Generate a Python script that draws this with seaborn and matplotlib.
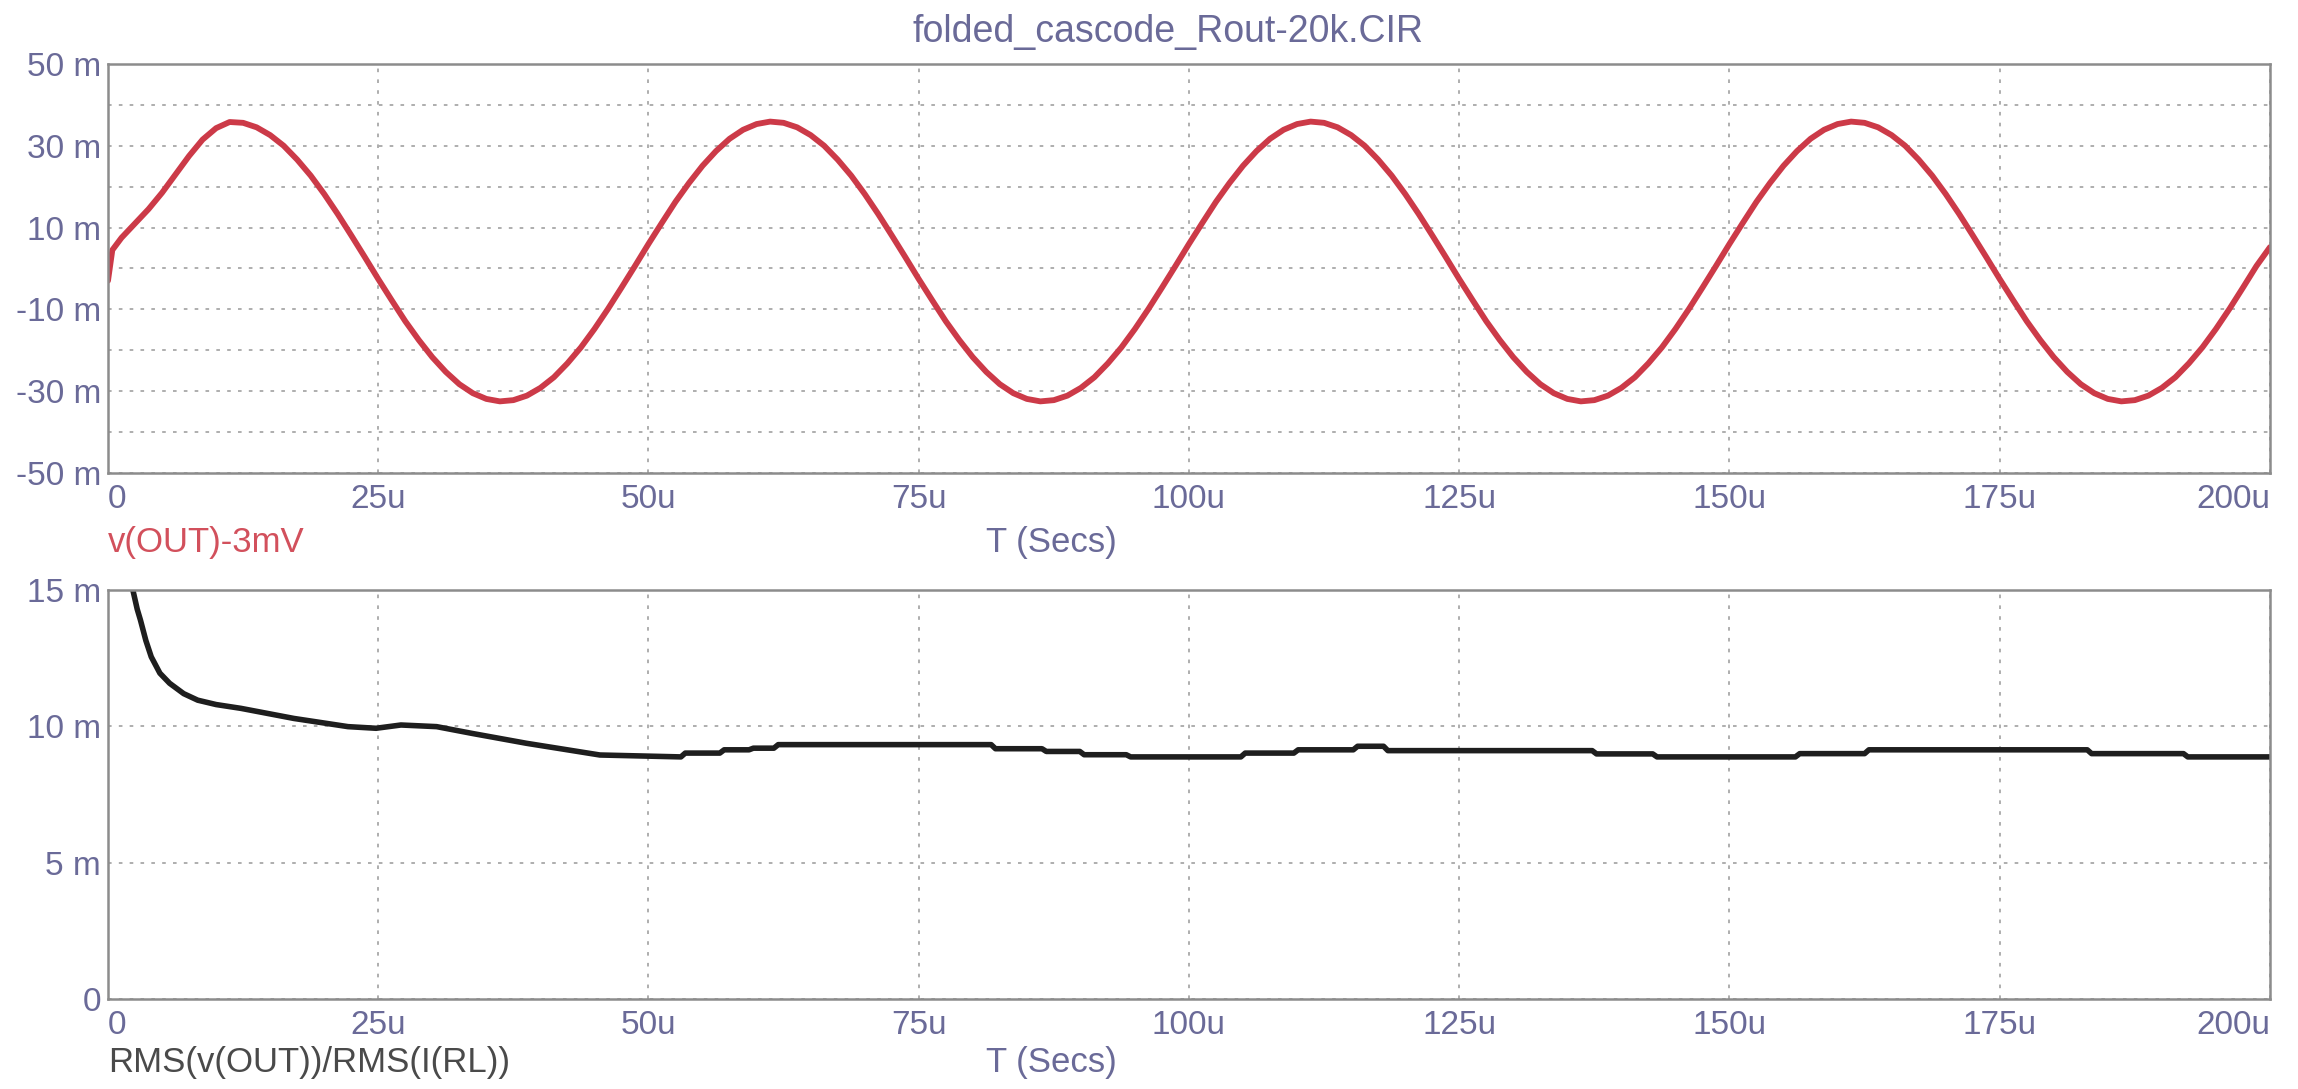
# Recreación del gráfico de simulación (folded_cascode_Rout-20k.CIR)
import pandas as pd
import seaborn as sns
import matplotlib.pyplot as plt

# Datos (tiempo en microsegundos, valores en mV / mOhm)
t_out = [0.0, 0.4, 1.25, 2.5, 3.75, 5.0, 6.25, 7.5, 8.75, 10.0, 11.25, 12.5, 13.75, 15.0, 16.25, 17.5, 18.75, 20.0, 21.25, 22.5, 23.75,
         25.0, 26.25, 27.5, 28.75, 30.0, 31.25, 32.5, 33.75, 35.0, 36.25, 37.5, 38.75, 40.0, 41.25, 42.5, 43.75, 45.0, 46.25, 47.5, 48.75,
         50.0, 51.25, 52.5, 53.75, 55.0, 56.25, 57.5, 58.75, 60.0, 61.25, 62.5, 63.75, 65.0, 66.25, 67.5, 68.75, 70.0, 71.25, 72.5, 73.75,
         75.0, 76.25, 77.5, 78.75, 80.0, 81.25, 82.5, 83.75, 85.0, 86.25, 87.5, 88.75, 90.0, 91.25, 92.5, 93.75, 95.0, 96.25, 97.5, 98.75,
         100.0, 101.25, 102.5, 103.75, 105.0, 106.25, 107.5, 108.75, 110.0, 111.25, 112.5, 113.75, 115.0, 116.25, 117.5, 118.75, 120.0, 121.25, 122.5, 123.75,
         125.0, 126.25, 127.5, 128.75, 130.0, 131.25, 132.5, 133.75, 135.0, 136.25, 137.5, 138.75, 140.0, 141.25, 142.5, 143.75, 145.0, 146.25, 147.5, 148.75,
         150.0, 151.25, 152.5, 153.75, 155.0, 156.25, 157.5, 158.75, 160.0, 161.25, 162.5, 163.75, 165.0, 166.25, 167.5, 168.75, 170.0, 171.25, 172.5, 173.75,
         175.0, 176.25, 177.5, 178.75, 180.0, 181.25, 182.5, 183.75, 185.0, 186.25, 187.5, 188.75, 190.0, 191.25, 192.5, 193.75, 195.0, 196.25, 197.5, 198.75,
         200.0]
v_out = [-3.0, 4.5, 7.5, 11.0, 14.5, 18.5, 23.0, 27.5, 31.5, 34.3, 35.8, 35.6, 34.5, 32.6, 30.0, 26.6, 22.7, 18.2, 13.3, 8.1, 2.8,
         -2.6, -7.8, -12.9, -17.5, -21.7, -25.3, -28.3, -30.5, -31.9, -32.5, -32.2, -31.1, -29.2, -26.6, -23.2, -19.3, -14.8, -9.9, -4.7, 0.6,
         6.0, 11.2, 16.3, 20.9, 25.1, 28.7, 31.7, 33.9, 35.3, 35.9, 35.6, 34.5, 32.6, 30.0, 26.6, 22.7, 18.2, 13.3, 8.1, 2.8,
         -2.6, -7.8, -12.9, -17.5, -21.7, -25.3, -28.3, -30.5, -31.9, -32.5, -32.2, -31.1, -29.2, -26.6, -23.2, -19.3, -14.8, -9.9, -4.7, 0.6,
         6.0, 11.2, 16.3, 20.9, 25.1, 28.7, 31.7, 33.9, 35.3, 35.9, 35.6, 34.5, 32.6, 30.0, 26.6, 22.7, 18.2, 13.3, 8.1, 2.8,
         -2.6, -7.8, -12.9, -17.5, -21.7, -25.3, -28.3, -30.5, -31.9, -32.5, -32.2, -31.1, -29.2, -26.6, -23.2, -19.3, -14.8, -9.9, -4.7, 0.6,
         6.0, 11.2, 16.3, 20.9, 25.1, 28.7, 31.7, 33.9, 35.3, 35.9, 35.6, 34.5, 32.6, 30.0, 26.6, 22.7, 18.2, 13.3, 8.1, 2.8,
         -2.6, -7.8, -12.9, -17.5, -21.7, -25.3, -28.3, -30.5, -31.9, -32.5, -32.2, -31.1, -29.2, -26.6, -23.2, -19.3, -14.8, -9.9, -4.7, 0.6,
         5.2]

t_rms = [1.8, 2.3, 2.7, 3.0, 3.5, 4.0, 4.8, 5.7, 7.0, 8.3, 10.0, 12.3, 17.2, 22.2, 24.8, 27.1, 30.4, 33.7, 38.7, 45.5, 53.0, 53.4, 56.6, 57.0, 59.3,
         59.7, 61.6, 62.0, 81.7, 82.1, 86.4, 86.8, 89.9, 90.3, 94.2, 94.6, 104.8, 105.2, 109.7, 110.1, 115.2, 115.6, 118.0,
         118.4, 137.3, 137.7, 142.9, 143.3, 156.1, 156.5, 162.5, 162.9, 183.1, 183.5, 192.0, 192.4, 200.0]
v_rms = [17.5, 15.0, 14.3, 13.9, 13.15, 12.55, 11.95, 11.58, 11.2, 10.96, 10.8, 10.66, 10.29, 9.99, 9.93, 10.05, 9.99, 9.74, 9.38, 8.95, 8.88, 9.02, 9.02, 9.14, 9.14,
         9.2, 9.2, 9.33, 9.33, 9.18, 9.18, 9.08, 9.08, 8.96, 8.96, 8.88, 8.88, 9.02, 9.02, 9.14, 9.14, 9.27, 9.27,
         9.11, 9.11, 8.99, 8.99, 8.88, 8.88, 9.0, 9.0, 9.14, 9.14, 9.0, 9.0, 8.88, 8.88]

x_ticks = [0, 25, 50, 75, 100, 125, 150, 175, 200]
x_labels = ['0', '25u', '50u', '75u', '100u', '125u', '150u', '175u', '200u']
y1_ticks = [-50, -30, -10, 10, 30, 50]
y1_labels = ['-50 m', '-30 m', '-10 m', '10 m', '30 m', '50 m']
y1_minor = [-40, -20, 0, 20, 40]
y2_ticks = [0, 5, 10, 15]
y2_labels = ['0', '5 m', '10 m', '15 m']

df_out = pd.DataFrame({'t': t_out, 'v': v_out})
df_rms = pd.DataFrame({'t': t_rms, 'v': v_rms})

sns.set_theme(style='white')
plt.rcParams['font.family'] = ['Liberation Sans', 'DejaVu Sans']

txt_color = '#6a6a98'
spine_color = '#8c8c8c'
grid_kw = dict(color='#a8a8a8', linestyle=(0, (2, 4)), linewidth=1.3)

fig = plt.figure(figsize=(22.98, 10.89), dpi=100)
ax1 = fig.add_axes([0.0470, 0.5657, 0.9408, 0.3756])
ax2 = fig.add_axes([0.0470, 0.0826, 0.9408, 0.3756])

# Grafico superior: v(OUT)-3mV
sns.lineplot(data=df_out, x='t', y='v', ax=ax1, color='#cc3a48', linewidth=4.2, estimator=None, sort=False)
ax1.set_ylim(-50, 50)
ax1.set_yticks(y1_ticks)
ax1.set_yticklabels(y1_labels)
ax1.set_yticks(y1_minor, minor=True)

# Grafico inferior: RMS(v(OUT))/RMS(I(RL))
sns.lineplot(data=df_rms, x='t', y='v', ax=ax2, color='#1e1e1e', linewidth=4.0, estimator=None, sort=False)
ax2.set_ylim(0, 15)
ax2.set_yticks(y2_ticks)
ax2.set_yticklabels(y2_labels)

for ax in (ax1, ax2):
    ax.set_xlim(0, 200)
    ax.set_xticks(x_ticks)
    ax.set_xticklabels(x_labels)
    ax.set_xlabel('')
    ax.set_ylabel('')
    ax.grid(True, which='both', **grid_kw)
    ax.tick_params(axis='both', which='both', length=0, labelsize=24, labelcolor=txt_color)
    ax.tick_params(axis='x', pad=8)
    ax.tick_params(axis='y', pad=5)
    # la ultima etiqueta (200u) se alinea a la derecha para que no se corte
    ax.get_xticklabels()[-1].set_horizontalalignment('right')
    ax.get_xticklabels()[0].set_horizontalalignment('left')
    for s in ax.spines.values():
        s.set_color(spine_color)
        s.set_linewidth(1.8)
    ax.set_axisbelow(True)

# Textos
fig.text(0.5083, 0.9706, 'folded_cascode_Rout-20k.CIR', ha='center', va='center', fontsize=27, color=txt_color)
fig.text(0.0470, 0.5014, 'v(OUT)-3mV', ha='left', va='center', fontsize=25, color='#d2505c')
fig.text(0.4574, 0.5014, 'T (Secs)', ha='center', va='center', fontsize=25, color=txt_color)
fig.text(0.0470, 0.0239, 'RMS(v(OUT))/RMS(I(RL))', ha='left', va='center', fontsize=25, color='#4a4a4a')
fig.text(0.4574, 0.0239, 'T (Secs)', ha='center', va='center', fontsize=25, color=txt_color)

plt.savefig('out.png', dpi=100, facecolor='white')
